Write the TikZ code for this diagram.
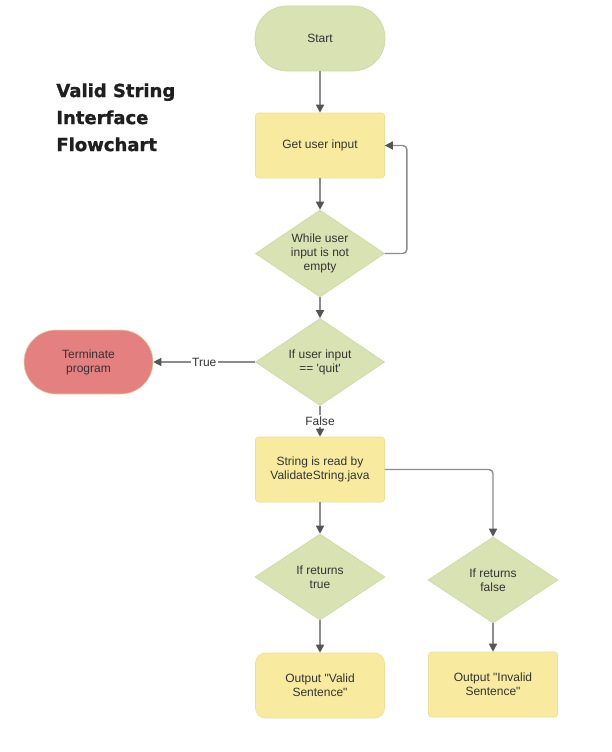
\documentclass[tikz,border=0pt]{standalone}
\usepackage{fontspec}
\setmainfont{Liberation Sans}[Ligatures=TeXOff]
\newfontfamily\titlefont{DejaVu Sans Bold}[FakeBold=1.2]
\usetikzlibrary{shapes.geometric,arrows.meta}

\definecolor{nodegreen}{RGB}{217,226,179}
\definecolor{greenline}{RGB}{205,215,160}
\definecolor{nodeyellow}{RGB}{248,235,160}
\definecolor{yellowline}{RGB}{236,224,150}
\definecolor{nodered}{RGB}{229,128,128}
\definecolor{redline}{RGB}{222,214,160}
\definecolor{wiregray}{RGB}{140,140,140}
\definecolor{tipgray}{RGB}{85,85,85}
\definecolor{inkgray}{RGB}{51,51,51}

\tikzset{every picture/.style={line width=0.75pt}}
\tikzset{
	box/.style={draw, line width=0.6pt, inner sep=2pt, align=center, text=inkgray, font=\fontsize{12}{14}\selectfont},
	terminal/.style={box, rectangle, rounded corners=32pt, minimum width=130pt, minimum height=65pt},
	process/.style={box, rectangle, rounded corners=3pt, fill=nodeyellow, draw=yellowline, minimum width=129pt, minimum height=65pt},
	decision/.style={box, diamond, aspect=1.47, inner sep=0pt, fill=nodegreen, draw=greenline, minimum width=129pt, minimum height=87pt},
	flow/.style={draw=wiregray, line width=1.4pt, -{Triangle[length=8pt,width=8pt,color=tipgray]}},
	lbl/.style={fill=white, inner sep=1.5pt, text=inkgray, font=\fontsize{12}{14}\selectfont}
}

\begin{document}
\begin{tikzpicture}[x=1pt,y=1pt,yscale=-1]
	\useasboundingbox[fill=white] (0,0) rectangle (612,752);
	
	% Title
	\node [anchor=north west, inner sep=0pt, align=left, text=black!88, font=\titlefont\fontsize{18}{27}\selectfont] (title) at (56,83) {Valid String\\Interface\\Flowchart};
	
	%Flowchart: Terminator
	\node [terminal, fill=nodegreen, draw=greenline] (start) at (320,38.5) {Start};
	%Flowchart: Process
	\node [process] (input) at (320,145.5) {Get user input};
	%Flowchart: Decision
	\node [decision] (whileloop) at (320,253.5) {While user\\input is not\\empty};
	%Flowchart: Decision
	\node [decision] (quitcheck) at (320,362) {If user input\\== 'quit'};
	%Flowchart: Terminator
	\node [terminal, fill=nodered, draw=redline, minimum width=129pt, minimum height=64pt] (terminate) at (88.5,362) {Terminate\\program};
	%Flowchart: Process
	\node [process] (read) at (320,469.5) {String is read by\\ValidateString.java};
	%Flowchart: Decision
	\node [decision, minimum width=130pt, minimum height=86pt] (validcheck) at (320,577) {If returns\\true};
	%Flowchart: Decision
	\node [decision, minimum width=130pt, minimum height=86pt] (invalidcheck) at (493,580) {If returns\\false};
	%Flowchart: Process
	\node [process, rounded corners=10pt] (validout) at (320,685.5) {Output "Valid\\Sentence"};
	%Flowchart: Process
	\node [process] (invalidout) at (493,684.5) {Output "Invalid\\Sentence"};
	
	%Straight Lines
	\draw [flow] (start) -- (input);
	\draw [flow] (input) -- (whileloop);
	\draw [flow, rounded corners=4pt] (whileloop.east) -- ++(22,0) |- (input.east);
	\draw [flow] (whileloop) -- (quitcheck);
	\draw [flow] (quitcheck) -- node [lbl] {True} (terminate);
	\draw [flow] (quitcheck) -- node [lbl] {False} (read);
	\draw [flow] (read) -- (validcheck);
	\draw [flow, rounded corners=4pt] (read.east) -| (invalidcheck.north);
	\draw [flow] (validcheck) -- (validout);
	\draw [flow] (invalidcheck) -- (invalidout);
	
\end{tikzpicture}
\end{document}
